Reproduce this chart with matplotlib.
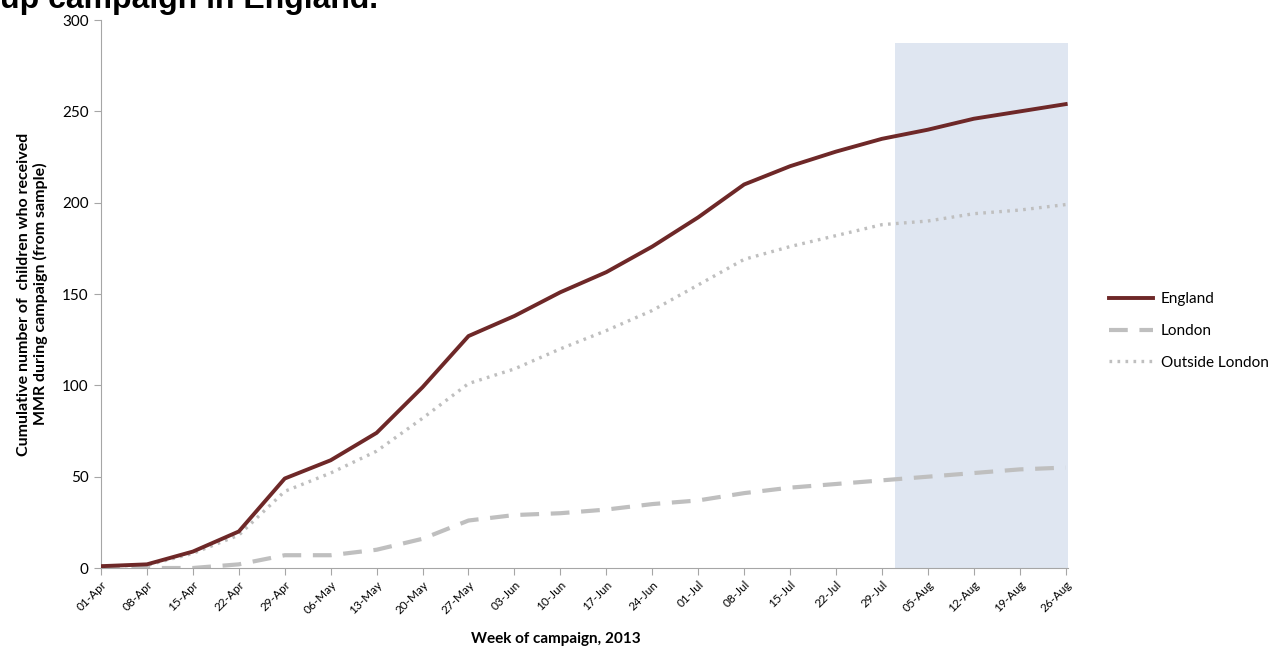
import matplotlib.pyplot as plt

weeks = ["01-Apr", "08-Apr", "15-Apr", "22-Apr", "29-Apr", "06-May", "13-May",
         "20-May", "27-May", "03-Jun", "10-Jun", "17-Jun", "24-Jun", "01-Jul",
         "08-Jul", "15-Jul", "22-Jul", "29-Jul", "05-Aug", "12-Aug", "19-Aug",
         "26-Aug"]
england = [1, 2, 9, 20, 49, 59, 74, 99, 127, 138, 151, 162, 176, 192, 210,
           220, 228, 235, 240, 246, 250, 254]
london = [0, 0, 0, 2, 7, 7, 10, 16, 26, 29, 30, 32, 35, 37, 41, 44, 46, 48,
          50, 52, 54, 55]
outside = [1, 1.5, 8, 18, 42, 52, 64, 82, 101, 109, 120, 130, 141, 155, 169,
           176, 182, 188, 190, 194, 196, 199]

plt.rcParams["font.family"] = ["Lato", "DejaVu Sans"]

fig = plt.figure(figsize=(12.72, 6.49), dpi=100)
ax = fig.add_axes([0.0794, 0.1248, 0.7602, 0.8442])

x = list(range(len(weeks)))

# shaded period (August)
ax.axvspan(17.28, 21.05, ymin=0, ymax=287.5 / 300, color="#DFE6F1", lw=0, zorder=0)

ax.plot(x, london, color="#BFBFBF", lw=3, dashes=(4.5, 2.8), label="London",
        zorder=2)
ax.plot(x, outside, color="#BFBFBF", lw=2.4, linestyle=(0, (0.8, 1.6)),
        label="Outside London", zorder=2)
ax.plot(x, england, color="#6E2828", lw=2.8, label="England", zorder=3)

ax.set_xlim(0, 21.05)
ax.set_ylim(0, 300)
ax.set_yticks(range(0, 301, 50))
ax.set_xticks(x)
ax.set_xticklabels(weeks, rotation=45, ha="right", rotation_mode="anchor",
                   fontsize=8.5)
ax.tick_params(axis="y", labelsize=11, length=5, color="#A6A6A6", pad=4)
ax.tick_params(axis="x", length=5, color="#A6A6A6", pad=3)

for s in ["top", "right"]:
    ax.spines[s].set_visible(False)
for s in ["left", "bottom"]:
    ax.spines[s].set_color("#A6A6A6")

ax.set_ylabel("Cumulative number of  children who received\nMMR during campaign (from sample)",
              fontsize=11.5, fontweight="bold", labelpad=10)
fig.text(0.437, 0.004, "Week of campaign, 2013", ha="center", va="bottom",
         fontsize=11, fontweight="bold")

# title is partly clipped by the top edge, as in the source image
fig.text(0.0, 0.9877, "up campaign in England.", ha="left", va="baseline",
         fontsize=23, fontweight="bold", family=["Liberation Sans", "DejaVu Sans"])

h, l = ax.get_legend_handles_labels()
order = [2, 0, 1]
ax.legend([h[i] for i in order], [l[i] for i in order], loc="center left",
          bbox_to_anchor=(0.861, 0.49), bbox_transform=fig.transFigure,
          frameon=False, fontsize=11, handlelength=2.9, handletextpad=0.5,
          labelspacing=1.15)

fig.savefig("out.png", dpi=100)
